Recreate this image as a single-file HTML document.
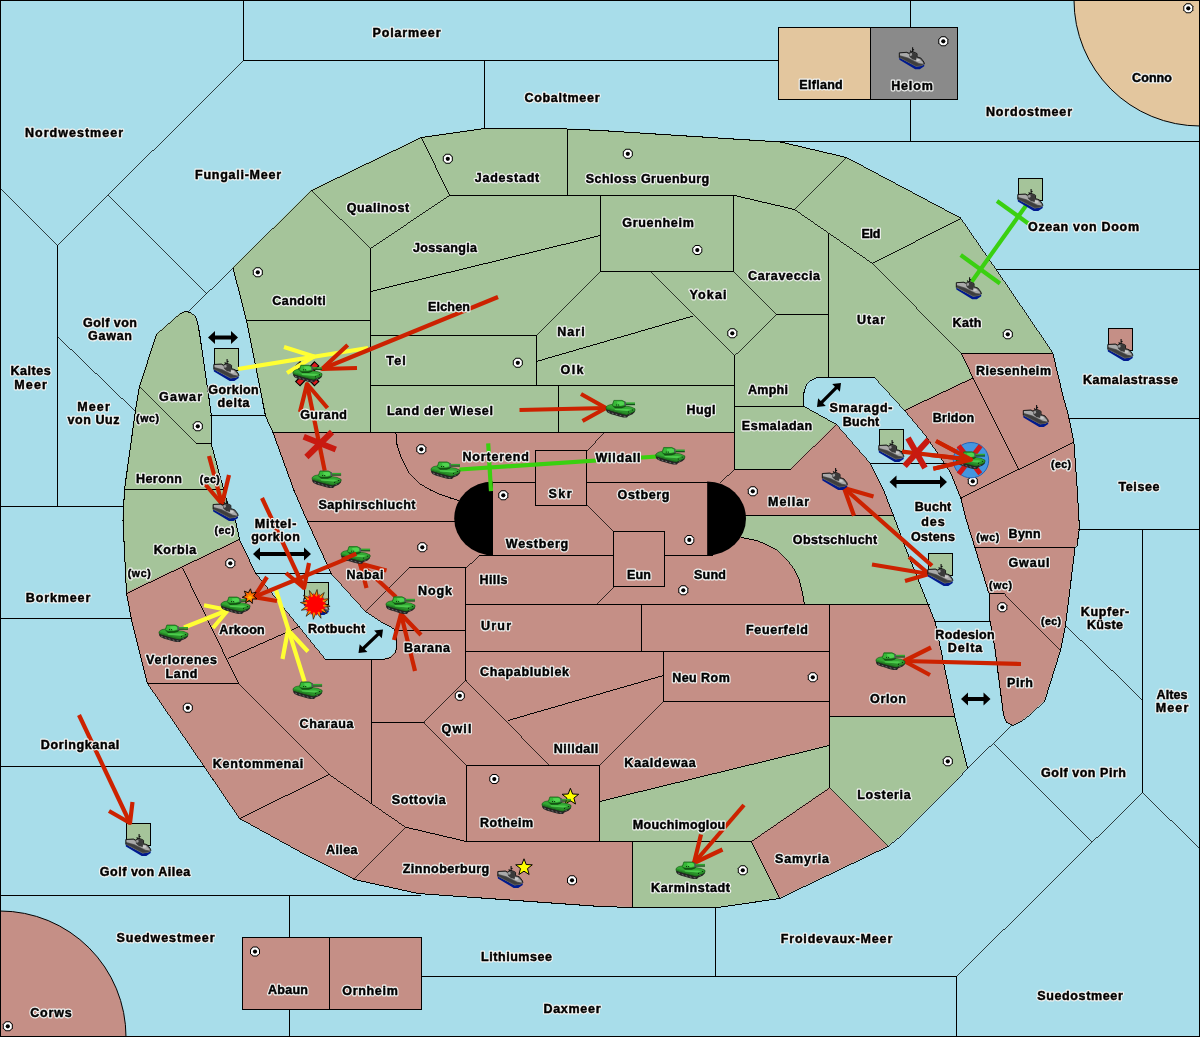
<!DOCTYPE html>
<html><head><meta charset="utf-8"><title>Map</title>
<style>html,body{margin:0;padding:0;background:#A8DDEA}svg{display:block}text{font-family:"Liberation Sans",sans-serif;font-weight:bold;fill:#000;text-anchor:middle;stroke-linejoin:round}.h text{stroke:#f0f2f0;stroke-width:2.8px;fill:#f0f2f0}.t text{stroke:#000;stroke-width:.45px}.b{fill:none;stroke:#000;stroke-width:1}.ar{fill:none;stroke-width:4.2;stroke-linecap:butt}</style></head>
<body>
<svg width="1200" height="1037" viewBox="0 0 1200 1037">
<defs>
<g id="tk"><polygon points="0,8.6 0.2,10.6 1.5,12.3 5.2,14 9,15 13.1,16.3 17.3,17.3 21,17.3 22.3,15.7 26.5,14 28.8,11.9 28.9,10.4 20.6,14 9,11.2" fill="#242424"/><path d="M2.2,11.4 l1.6,0.7 M5.8,12.8 l1.8,0.6 M9.6,13.9 l1.8,0.6 M13.6,15.1 l1.8,0.5 M17.6,16 l2,0.2 M23.3,14 l1.6,-0.7" stroke="#707070" stroke-width="1" fill="none"/><polygon points="0,6.9 1.5,5.6 3.1,4.8 6.5,4.2 19.6,5.9 24.8,6.7 29,8.6 29,10.6 26.5,12.3 20.6,14.5 18.1,14.1 9,11.6 0,8.8" fill="#2a902a" stroke="#134d13" stroke-width="0.6"/><polygon points="0.2,6.9 3.1,5.1 6.5,4.5 19.6,6.2 24.6,7 28.4,8.7 21.5,10.9 9,9.4" fill="#33a833"/><polygon points="8.5,8.6 22,8.7 25.6,9.5 21.3,10.9 9,9.9" fill="#4ccc4c"/><polygon points="0.6,8.3 9,10.4 18.5,13 20.6,13.5 23,12.6 20.8,14.3 18.1,13.9 9,11.4 0.3,8.7" fill="#1f7a1f"/><polygon points="6.5,5.5 9,8.1 15.6,8 18.6,7.1 20,6.1 19.6,4.8 7,5" fill="#125212"/><polygon points="6.25,4.8 7.9,0.2 16,0.2 18.75,1.5 19.6,4.8 18.1,5.7 15.6,6.2 9,6.4 7,5.8" fill="#38b838" stroke="#155a15" stroke-width="0.6"/><polygon points="7.9,0.2 16,0.2 18.75,1.5 18.9,2.2 16,0.9 8.2,0.9 6.9,4.6 6.25,4.8" fill="#1f7f1f"/><polygon points="11,1.6 16,1.2 18,2.4 18.4,4.4 14,5.6 11.5,3.6" fill="#50d450"/><rect x="18.5" y="1.5" width="1.4" height="4" fill="#54545f"/><rect x="19.9" y="2.2" width="9.1" height="1.5" fill="#2fa82f"/><rect x="19.9" y="3.7" width="9.1" height="1.3" fill="#12501a"/><rect x="10" y="4.3" width="1" height="1" fill="#0c300c"/><rect x="12.1" y="4.3" width="1" height="1" fill="#0c300c"/><rect x="26" y="9.3" width="1" height="1" fill="#0c300c"/><rect x="22" y="11.3" width="1" height="1" fill="#0c300c"/></g>
<g id="sh"><polygon points="0.2,10.2 0.4,12.4 16.2,22 20.8,22 25.2,19 25.2,17 22.5,18.6 17.1,19.3" fill="#001a8e"/><polygon points="0.3,5.6 7.9,5.1 10,6.2 11.6,5.2 13.4,4.5 16.3,5.5 18,6.5 17.9,9.7 21.8,10.9 24.8,14.8 25.3,16.6 25.2,17.2 22.5,18.8 17.1,19.5 0.2,10.4" fill="#5a5a5a"/><polygon points="0.5,8.6 9,11 20,16.6 24.6,17 22.4,18 17.1,18.6 0.4,9.8" fill="#3e3e3e"/><polygon points="0.8,5.9 7.6,5.7 10,6.9 10.5,9.4 17,13.3 17.5,11 21,11.7 24,15.3 24.3,16.4 20,15.8 9,10.2 0.8,7.9" fill="#aaaaaa"/><polygon points="10.6,6.4 13.2,5.2 16.4,6.1 17.4,7 17.3,12.6 13.6,12.2 10.8,9.8" fill="#3a3a3a"/><polygon points="10.4,6.4 12.8,5.5 13.2,8 11.2,8.9" fill="#9c9c9c"/><polygon points="17.4,11.2 20.4,11.6 20.8,13.5 17.6,13.9" fill="#cacaca"/><polyline points="0.3,10.4 0.3,5.5 7.9,5 10,6 11.5,5.1 13.5,4.4 16.4,5.4 18.1,6.4 18,9.6 21.9,10.8 24.9,14.7 25.4,16.8" fill="none" stroke="#111" stroke-width="0.9"/><path d="M13.6,0 V4.8 M11.2,3.3 L12.5,4.9 M14.2,2 L14.9,3" stroke="#111" stroke-width="1.1" fill="none"/></g>
<g id="sc"><polygon points="-2,-5 2,-5 5,-2 5,2 2,5 -2,5 -5,2 -5,-2" fill="#000"/><polygon points="-1.8,-4 1.8,-4 4,-1.8 4,1.8 1.8,4 -1.8,4 -4,1.8 -4,-1.8" fill="#fff"/><circle r="2.1" fill="#000"/></g>
<filter id="nf" x="0" y="0" width="1200" height="1037" filterUnits="userSpaceOnUse"><feOffset dx="0" dy="0"/></filter>
</defs>
<rect width="1200" height="1037" fill="#A8DDEA"/>
<circle cx="1200" cy="0" r="126" fill="#E3C69E" stroke="#000" stroke-width="1"/>
<circle cx="0" cy="1037" r="126" fill="#C58F86" stroke="#000" stroke-width="1"/>
<polygon points="232.5,267.5 311,190 421,137 484,128 555,128 600,130 780,141.5 846,157 960,217.5 996,269.5 1052.5,352.5 1063.8,400 1068.7,418 1073.5,443 1076.6,486.7 1078.5,519 1078.7,529 1076.6,545 1074.5,547.5 1065,625 1060,650 1044,701 1030,714 1021,721 1012.5,725 1006,722 1003,714 994,645 989.5,620 989.5,594 987.5,590 975,549 966,520 960.5,498 949.5,471 925,435 904,410 874.4,377.5 816,377.5 810,380 806.3,384 804.5,387.5 803.5,392 803.5,406 836,424 869,462 882,487 893.6,516.7 906,550 931,612.5 934.5,621 954,715 967,767.5 957.5,779 900,836 887.5,846 779,898 717.5,907 632.5,907 600,906 417.5,893 354,879 299,851 239,818 212.5,779 147,683 131,619 126,592.5 122.5,520 124,489 135,410 139,386 156,334 180,313 185,311 190,312 195,316 197,322 199,332.5 208.8,400 210.8,415 210.6,443 220,477.5 229,510 235,520 239,539 255,572.6 325,659 383,659 390,657 395,652 396.5,645 395.5,629.4 381.5,622 365,611 331,573.5 307.3,521.8 293.5,490 272.5,432 265,415.5 246,320" fill="#A5C49A"/>
<polygon points="272.5,432 734,432 734,469 790,469 836,424 869,462 882,487 893,515 745,515 741,537 756,540 766,544 775.5,549 786,558.5 794,569 799,580 802,592 804,604 929,604 931,612.5 934.5,621 954,716 829,716 829,745 599.5,801 599.5,841 632.5,841 632.5,907 600,906 417.5,893 354,879 299,851 239,818 212.5,779 147,683 131,619 126,592.5 239,539 255,572.6 325,659 383,659 390,657 395,652 396.5,645 395.5,629.4 381.5,622 365,611 331,573.5 307.3,521.8 293.5,490" fill="#C58F86"/>
<polygon points="961,353 1052.5,353 1063.8,400 1068.7,418 1073.5,443 1076.6,486.7 1078.5,519 1078.7,529 1076.6,545 1074.5,547.5 1065,625 1060,650 1044,701 1030,714 1021,721 1012.5,725 1006,722 1003,714 994,645 989.5,620 989.5,594 987.5,590 975,549 966,520 960.5,498 949.5,471 925,435 904,410 972.5,377.5" fill="#C58F86"/>
<polygon points="751,841 829,787.5 887.5,846 779,898" fill="#C58F86"/>
<rect x="778.5" y="27.5" width="92" height="72" fill="#E3C69E" stroke="#000" stroke-width="1"/>
<rect x="870.5" y="27.5" width="87" height="72" fill="#8A8A8A" stroke="#000" stroke-width="1"/>
<rect x="242.5" y="937.5" width="87" height="72" fill="#C58F86" stroke="#000" stroke-width="1"/>
<rect x="329.5" y="937.5" width="92" height="72" fill="#C58F86" stroke="#000" stroke-width="1"/>
<g class="b" shape-rendering="crispEdges">
<line x1="232.64" y1="268.35" x2="311.86" y2="190.15" stroke-width="0.726"/><line x1="311.05" y1="190.72" x2="421.95" y2="137.28" stroke-width="0.919"/><line x1="421.01" y1="137.57" x2="484.99" y2="128.43" stroke-width="1.010"/><line x1="484.00" y1="128.50" x2="556.00" y2="128.50" stroke-width="1.000"/><line x1="555.00" y1="128.48" x2="601.00" y2="130.52" stroke-width="1.019"/><line x1="600.00" y1="130.47" x2="781.00" y2="142.03" stroke-width="1.018"/><line x1="780.01" y1="141.89" x2="846.99" y2="157.61" stroke-width="0.993"/><line x1="846.06" y1="157.27" x2="960.94" y2="218.23" stroke-width="0.901"/><line x1="960.22" y1="217.59" x2="996.78" y2="270.41" stroke-width="0.839"/><line x1="996.22" y1="269.59" x2="1053.28" y2="353.41" stroke-width="0.843"/><line x1="1052.88" y1="352.51" x2="1064.42" y2="400.99" stroke-width="0.992"/><line x1="1064.17" y1="400.02" x2="1069.33" y2="418.98" stroke-width="0.984"/><line x1="1069.11" y1="418.01" x2="1074.09" y2="443.99" stroke-width="1.002"/><line x1="1073.96" y1="443.00" x2="1077.14" y2="487.70" stroke-width="1.017"/><line x1="1077.07" y1="486.70" x2="1079.03" y2="520.00" stroke-width="1.018"/><line x1="1078.99" y1="519.00" x2="1079.21" y2="530.00" stroke-width="1.020"/><line x1="1079.27" y1="529.00" x2="1077.03" y2="546.00" stroke-width="1.011"/><line x1="1077.42" y1="545.12" x2="1074.68" y2="548.38" stroke-width="0.781"/><line x1="1075.06" y1="547.50" x2="1065.44" y2="626.00" stroke-width="1.012"/><line x1="1065.60" y1="625.01" x2="1060.40" y2="650.99" stroke-width="1.000"/><line x1="1060.65" y1="650.02" x2="1044.35" y2="701.98" stroke-width="0.973"/><line x1="1044.87" y1="701.16" x2="1030.13" y2="714.84" stroke-width="0.747"/><line x1="1030.89" y1="714.19" x2="1021.11" y2="721.81" stroke-width="0.805"/><line x1="1021.95" y1="721.29" x2="1012.55" y2="725.71" stroke-width="0.923"/><line x1="1013.45" y1="725.71" x2="1006.05" y2="722.29" stroke-width="0.926"/><line x1="1006.68" y1="722.97" x2="1003.32" y2="714.03" stroke-width="0.955"/><line x1="1003.56" y1="715.00" x2="994.44" y2="645.00" stroke-width="1.011"/><line x1="994.59" y1="645.99" x2="989.91" y2="620.01" stroke-width="1.004"/><line x1="989.50" y1="594.00" x2="989.50" y2="621.00" stroke-width="1.000"/><line x1="990.22" y1="594.95" x2="987.78" y2="590.05" stroke-width="0.912"/><line x1="988.15" y1="590.98" x2="975.35" y2="549.02" stroke-width="0.976"/><line x1="975.65" y1="549.98" x2="966.35" y2="520.02" stroke-width="0.974"/><line x1="966.62" y1="520.99" x2="960.88" y2="498.01" stroke-width="0.990"/><line x1="961.19" y1="498.96" x2="949.81" y2="471.04" stroke-width="0.945"/><line x1="950.28" y1="471.91" x2="925.22" y2="435.09" stroke-width="0.843"/><line x1="925.82" y1="435.88" x2="904.18" y2="410.12" stroke-width="0.781"/><line x1="904.84" y1="410.87" x2="874.56" y2="377.63" stroke-width="0.754"/><line x1="816.00" y1="377.50" x2="875.00" y2="377.50" stroke-width="1.000"/><line x1="816.96" y1="377.81" x2="810.04" y2="380.69" stroke-width="0.942"/><line x1="810.84" y1="380.13" x2="806.46" y2="384.87" stroke-width="0.749"/><line x1="807.03" y1="384.06" x2="804.77" y2="388.44" stroke-width="0.907"/><line x1="805.11" y1="387.51" x2="803.89" y2="392.99" stroke-width="0.996"/><line x1="803.50" y1="392.00" x2="803.50" y2="407.00" stroke-width="1.000"/><line x1="803.56" y1="406.26" x2="836.94" y2="424.74" stroke-width="0.892"/><line x1="836.17" y1="424.12" x2="869.83" y2="462.88" stroke-width="0.770"/><line x1="869.27" y1="462.06" x2="882.73" y2="487.94" stroke-width="0.905"/><line x1="882.32" y1="487.03" x2="894.28" y2="517.67" stroke-width="0.950"/><line x1="893.93" y1="516.73" x2="906.67" y2="550.97" stroke-width="0.956"/><line x1="906.31" y1="550.04" x2="931.69" y2="613.46" stroke-width="0.947"/><line x1="931.31" y1="612.54" x2="935.19" y2="621.96" stroke-width="0.943"/><line x1="934.90" y1="621.01" x2="954.60" y2="715.99" stroke-width="0.999"/><line x1="954.38" y1="715.01" x2="967.62" y2="768.49" stroke-width="0.990"/><line x1="967.82" y1="767.61" x2="957.68" y2="779.89" stroke-width="0.786"/><line x1="958.36" y1="779.15" x2="900.14" y2="836.85" stroke-width="0.724"/><line x1="900.89" y1="836.19" x2="887.61" y2="846.81" stroke-width="0.796"/><line x1="888.45" y1="846.28" x2="779.05" y2="898.72" stroke-width="0.920"/><line x1="779.99" y1="898.43" x2="717.51" y2="907.57" stroke-width="1.009"/><line x1="632.00" y1="907.50" x2="718.00" y2="907.50" stroke-width="1.000"/><line x1="633.50" y1="907.52" x2="600.00" y2="906.48" stroke-width="1.020"/><line x1="601.00" y1="906.54" x2="417.50" y2="893.46" stroke-width="1.017"/><line x1="418.49" y1="893.61" x2="354.01" y2="879.39" stroke-width="0.996"/><line x1="354.95" y1="879.73" x2="299.05" y2="851.27" stroke-width="0.909"/><line x1="299.94" y1="851.74" x2="239.06" y2="818.26" stroke-width="0.894"/><line x1="239.78" y1="818.91" x2="212.72" y2="779.09" stroke-width="0.844"/><line x1="213.28" y1="779.91" x2="147.22" y2="683.09" stroke-width="0.843"/><line x1="147.62" y1="683.99" x2="131.38" y2="619.01" stroke-width="0.990"/><line x1="131.59" y1="619.99" x2="126.41" y2="592.51" stroke-width="1.002"/><line x1="126.52" y1="593.50" x2="122.98" y2="520.00" stroke-width="1.019"/><line x1="122.98" y1="521.00" x2="124.52" y2="489.00" stroke-width="1.019"/><line x1="124.43" y1="490.00" x2="135.57" y2="410.00" stroke-width="1.010"/><line x1="135.42" y1="410.99" x2="139.58" y2="386.01" stroke-width="1.006"/><line x1="139.34" y1="386.98" x2="156.66" y2="334.02" stroke-width="0.970"/><line x1="156.12" y1="334.83" x2="180.88" y2="313.17" stroke-width="0.768"/><line x1="180.04" y1="313.69" x2="185.96" y2="311.31" stroke-width="0.947"/><line x1="185.01" y1="311.40" x2="190.99" y2="312.60" stroke-width="1.000"/><line x1="190.11" y1="312.19" x2="195.89" y2="316.81" stroke-width="0.796"/><line x1="195.34" y1="316.03" x2="197.66" y2="322.97" stroke-width="0.968"/><line x1="197.41" y1="322.01" x2="199.59" y2="333.49" stroke-width="1.002"/><line x1="199.43" y1="332.51" x2="209.37" y2="400.99" stroke-width="1.009"/><line x1="209.23" y1="400.00" x2="211.37" y2="416.00" stroke-width="1.011"/><line x1="211.30" y1="415.00" x2="211.10" y2="444.00" stroke-width="1.020"/><line x1="210.97" y1="443.02" x2="220.63" y2="478.48" stroke-width="0.984"/><line x1="220.37" y1="477.52" x2="229.63" y2="510.98" stroke-width="0.983"/><line x1="229.24" y1="510.07" x2="235.76" y2="520.93" stroke-width="0.875"/><line x1="235.40" y1="520.01" x2="239.60" y2="539.99" stroke-width="0.998"/><line x1="239.29" y1="539.05" x2="255.71" y2="573.55" stroke-width="0.921"/><line x1="255.19" y1="572.71" x2="325.81" y2="659.89" stroke-width="0.793"/><line x1="325.00" y1="659.50" x2="384.00" y2="659.50" stroke-width="1.000"/><line x1="383.02" y1="659.64" x2="390.98" y2="657.36" stroke-width="0.981"/><line x1="390.15" y1="657.85" x2="395.85" y2="652.15" stroke-width="0.721"/><line x1="395.40" y1="652.99" x2="397.10" y2="645.01" stroke-width="0.997"/><line x1="397.03" y1="646.00" x2="395.97" y2="629.40" stroke-width="1.018"/><line x1="396.44" y1="630.13" x2="381.56" y2="622.27" stroke-width="0.902"/><line x1="382.42" y1="622.78" x2="365.08" y2="611.22" stroke-width="0.849"/><line x1="365.84" y1="611.87" x2="331.16" y2="573.63" stroke-width="0.756"/><line x1="331.71" y1="574.45" x2="307.59" y2="521.85" stroke-width="0.927"/><line x1="308.00" y1="522.76" x2="293.80" y2="490.04" stroke-width="0.936"/><line x1="294.17" y1="490.97" x2="272.83" y2="432.03" stroke-width="0.959"/><line x1="273.21" y1="432.96" x2="265.29" y2="415.54" stroke-width="0.929"/><line x1="265.60" y1="416.49" x2="246.40" y2="320.01" stroke-width="1.000"/><line x1="246.62" y1="320.98" x2="232.88" y2="267.52" stroke-width="0.988"/>
<line x1="243.50" y1="0.00" x2="243.50" y2="61.00" stroke-width="1.000"/>
<line x1="243.00" y1="60.50" x2="779.00" y2="60.50" stroke-width="1.000"/>
<line x1="243.85" y1="60.15" x2="57.15" y2="245.85" stroke-width="0.723"/><line x1="57.50" y1="245.00" x2="57.50" y2="507.00" stroke-width="1.000"/>
<line x1="0.15" y1="188.15" x2="57.85" y2="245.85" stroke-width="0.721"/>
<line x1="108.15" y1="195.15" x2="206.85" y2="293.85" stroke-width="0.721"/>
<line x1="233.36" y1="267.65" x2="188.14" y2="311.85" stroke-width="0.729"/>
<line x1="484.50" y1="60.00" x2="484.50" y2="129.00" stroke-width="1.000"/>
<line x1="910.50" y1="0.00" x2="910.50" y2="28.00" stroke-width="1.000"/>
<line x1="910.50" y1="99.00" x2="910.50" y2="142.00" stroke-width="1.000"/>
<line x1="780.00" y1="141.50" x2="1200.00" y2="141.50" stroke-width="1.000"/>
<line x1="996.00" y1="269.50" x2="1200.00" y2="269.50" stroke-width="1.000"/>
<line x1="1068.00" y1="418.50" x2="1200.00" y2="418.50" stroke-width="1.000"/>
<line x1="1078.00" y1="529.50" x2="1200.00" y2="529.50" stroke-width="1.000"/>
<line x1="1142.50" y1="529.00" x2="1142.50" y2="793.00" stroke-width="1.000"/>
<line x1="1065.14" y1="625.15" x2="1142.86" y2="700.35" stroke-width="0.733"/>
<line x1="1142.14" y1="792.15" x2="1199.86" y2="848.85" stroke-width="0.728"/>
<line x1="1142.86" y1="792.15" x2="956.14" y2="976.85" stroke-width="0.725"/>
<line x1="956.50" y1="976.00" x2="956.50" y2="1037.00" stroke-width="1.000"/>
<line x1="421.00" y1="976.50" x2="957.00" y2="976.50" stroke-width="1.000"/>
<line x1="715.50" y1="907.00" x2="715.50" y2="977.00" stroke-width="1.000"/>
<line x1="994.15" y1="744.15" x2="1091.85" y2="841.85" stroke-width="0.721"/>
<line x1="967.14" y1="768.85" x2="1011.86" y2="725.15" stroke-width="0.729"/>
<line x1="0.00" y1="506.50" x2="123.00" y2="506.50" stroke-width="1.000"/>
<line x1="57.14" y1="336.15" x2="135.86" y2="411.85" stroke-width="0.735"/>
<line x1="0.00" y1="618.50" x2="132.00" y2="618.50" stroke-width="1.000"/>
<line x1="0.00" y1="766.50" x2="204.00" y2="766.50" stroke-width="1.000"/>
<line x1="0.00" y1="895.50" x2="421.00" y2="895.50" stroke-width="1.000"/>
<line x1="289.50" y1="895.00" x2="289.50" y2="938.00" stroke-width="1.000"/>
<line x1="289.50" y1="1009.00" x2="289.50" y2="1037.00" stroke-width="1.000"/>
<line x1="210.00" y1="415.50" x2="266.00" y2="415.50" stroke-width="1.000"/>
<line x1="255.00" y1="573.50" x2="332.00" y2="573.50" stroke-width="1.000"/>
<line x1="870.00" y1="463.50" x2="947.00" y2="463.50" stroke-width="1.000"/>
<line x1="934.00" y1="621.50" x2="990.00" y2="621.50" stroke-width="1.000"/>
<line x1="311.14" y1="190.15" x2="370.86" y2="248.85" stroke-width="0.727"/>
<line x1="370.50" y1="248.00" x2="370.50" y2="433.00" stroke-width="1.000"/>
<line x1="421.28" y1="137.05" x2="449.72" y2="195.95" stroke-width="0.919"/>
<line x1="449.92" y1="195.22" x2="370.08" y2="248.78" stroke-width="0.847"/>
<line x1="449.00" y1="195.50" x2="735.00" y2="195.50" stroke-width="1.000"/>
<line x1="567.50" y1="129.00" x2="567.50" y2="196.00" stroke-width="1.000"/>
<line x1="734.01" y1="195.39" x2="794.99" y2="209.61" stroke-width="0.993"/>
<line x1="794.15" y1="209.85" x2="846.85" y2="157.15" stroke-width="0.721"/>
<line x1="794.09" y1="209.22" x2="872.91" y2="263.78" stroke-width="0.839"/><line x1="872.15" y1="263.14" x2="961.85" y2="353.86" stroke-width="0.725"/>
<line x1="872.05" y1="263.73" x2="960.95" y2="218.27" stroke-width="0.908"/>
<line x1="600.50" y1="195.00" x2="600.50" y2="272.00" stroke-width="1.000"/><line x1="600.00" y1="271.50" x2="734.00" y2="271.50" stroke-width="1.000"/><line x1="733.50" y1="195.00" x2="733.50" y2="272.00" stroke-width="1.000"/>
<line x1="370.01" y1="291.62" x2="600.99" y2="235.38" stroke-width="0.991"/>
<line x1="246.00" y1="320.50" x2="371.00" y2="320.50" stroke-width="1.000"/>
<line x1="370.00" y1="335.50" x2="537.00" y2="335.50" stroke-width="1.000"/>
<line x1="536.50" y1="335.00" x2="536.50" y2="386.00" stroke-width="1.000"/>
<line x1="536.15" y1="335.85" x2="600.85" y2="271.15" stroke-width="0.721"/>
<line x1="536.02" y1="361.64" x2="693.48" y2="315.86" stroke-width="0.979"/>
<line x1="650.15" y1="271.15" x2="734.85" y2="356.35" stroke-width="0.723"/>
<line x1="733.15" y1="271.15" x2="776.85" y2="314.85" stroke-width="0.721"/><line x1="776.86" y1="314.15" x2="734.14" y2="356.35" stroke-width="0.726"/>
<line x1="776.00" y1="314.50" x2="829.00" y2="314.50" stroke-width="1.000"/>
<line x1="828.50" y1="234.00" x2="828.50" y2="378.00" stroke-width="1.000"/>
<line x1="734.50" y1="355.00" x2="734.50" y2="470.00" stroke-width="1.000"/>
<line x1="370.00" y1="385.50" x2="735.00" y2="385.50" stroke-width="1.000"/>
<line x1="558.50" y1="385.00" x2="558.50" y2="433.00" stroke-width="1.000"/>
<line x1="272.00" y1="432.50" x2="735.00" y2="432.50" stroke-width="1.000"/>
<line x1="734.00" y1="406.50" x2="804.00" y2="406.50" stroke-width="1.000"/>
<line x1="836.86" y1="424.15" x2="790.14" y2="469.85" stroke-width="0.729"/><line x1="734.00" y1="469.50" x2="791.00" y2="469.50" stroke-width="1.000"/>
<line x1="734.87" y1="469.16" x2="720.13" y2="482.84" stroke-width="0.747"/>
<line x1="395.85" y1="432.00" x2="397.05" y2="445.00" stroke-width="1.016"/><line x1="396.85" y1="444.02" x2="400.65" y2="455.98" stroke-width="0.972"/><line x1="400.30" y1="455.04" x2="404.70" y2="464.96" stroke-width="0.932"/><line x1="404.26" y1="464.06" x2="409.49" y2="473.44" stroke-width="0.890"/><line x1="408.92" y1="472.62" x2="414.83" y2="479.38" stroke-width="0.768"/><line x1="414.12" y1="478.67" x2="420.88" y2="484.58" stroke-width="0.768"/><line x1="420.07" y1="484.00" x2="430.93" y2="490.25" stroke-width="0.884"/><line x1="430.04" y1="489.79" x2="440.96" y2="494.71" stroke-width="0.930"/><line x1="440.03" y1="494.33" x2="450.97" y2="498.17" stroke-width="0.963"/><line x1="450.02" y1="497.86" x2="459.48" y2="500.64" stroke-width="0.979"/>
<line x1="535.00" y1="450.50" x2="587.00" y2="450.50" stroke-width="1.000"/><line x1="586.50" y1="450.00" x2="586.50" y2="506.00" stroke-width="1.000"/><line x1="535.00" y1="505.50" x2="587.00" y2="505.50" stroke-width="1.000"/><line x1="535.50" y1="450.00" x2="535.50" y2="506.00" stroke-width="1.000"/>
<line x1="492.00" y1="482.50" x2="536.00" y2="482.50" stroke-width="1.000"/>
<line x1="586.66" y1="451.36" x2="604.84" y2="432.14" stroke-width="0.741"/>
<line x1="586.00" y1="482.50" x2="708.00" y2="482.50" stroke-width="1.000"/>
<line x1="586.64" y1="505.15" x2="614.36" y2="532.35" stroke-width="0.728"/>
<line x1="613.00" y1="531.50" x2="665.00" y2="531.50" stroke-width="1.000"/><line x1="664.50" y1="531.00" x2="664.50" y2="587.00" stroke-width="1.000"/><line x1="613.00" y1="586.50" x2="665.00" y2="586.50" stroke-width="1.000"/><line x1="613.50" y1="531.00" x2="613.50" y2="587.00" stroke-width="1.000"/>
<line x1="614.35" y1="586.64" x2="596.15" y2="605.36" stroke-width="0.731"/>
<line x1="479.00" y1="555.50" x2="614.00" y2="555.50" stroke-width="1.000"/>
<line x1="664.00" y1="555.50" x2="713.00" y2="555.50" stroke-width="1.000"/>
<line x1="479.87" y1="555.67" x2="465.63" y2="568.33" stroke-width="0.762"/>
<line x1="409.00" y1="567.50" x2="466.00" y2="567.50" stroke-width="1.000"/>
<line x1="409.86" y1="567.65" x2="365.14" y2="611.85" stroke-width="0.725"/>
<line x1="465.50" y1="567.00" x2="465.50" y2="681.00" stroke-width="1.000"/>
<line x1="394.00" y1="630.50" x2="466.00" y2="630.50" stroke-width="1.000"/>
<line x1="465.00" y1="604.50" x2="930.00" y2="604.50" stroke-width="1.000"/>
<line x1="465.00" y1="651.50" x2="830.00" y2="651.50" stroke-width="1.000"/>
<line x1="641.50" y1="604.00" x2="641.50" y2="652.00" stroke-width="1.000"/>
<line x1="829.50" y1="604.00" x2="829.50" y2="788.00" stroke-width="1.000"/>
<line x1="663.50" y1="651.00" x2="663.50" y2="702.00" stroke-width="1.000"/><line x1="663.00" y1="701.50" x2="830.00" y2="701.50" stroke-width="1.000"/>
<line x1="507.52" y1="720.64" x2="663.98" y2="675.36" stroke-width="0.980"/>
<line x1="663.85" y1="701.15" x2="599.15" y2="765.85" stroke-width="0.721"/>
<line x1="466.35" y1="680.15" x2="423.65" y2="722.85" stroke-width="0.721"/>
<line x1="465.65" y1="680.14" x2="549.85" y2="765.86" stroke-width="0.728"/>
<line x1="371.00" y1="722.50" x2="424.00" y2="722.50" stroke-width="1.000"/>
<line x1="371.50" y1="659.00" x2="371.50" y2="803.00" stroke-width="1.000"/>
<line x1="423.65" y1="722.14" x2="466.85" y2="765.86" stroke-width="0.725"/>
<line x1="466.00" y1="765.50" x2="600.00" y2="765.50" stroke-width="1.000"/><line x1="599.50" y1="765.00" x2="599.50" y2="842.00" stroke-width="1.000"/><line x1="466.00" y1="841.50" x2="600.00" y2="841.50" stroke-width="1.000"/><line x1="466.50" y1="765.00" x2="466.50" y2="842.00" stroke-width="1.000"/>
<line x1="238.15" y1="683.15" x2="329.35" y2="774.85" stroke-width="0.723"/><line x1="328.59" y1="774.22" x2="406.41" y2="827.78" stroke-width="0.840"/><line x1="405.51" y1="827.39" x2="465.99" y2="841.61" stroke-width="0.993"/>
<line x1="353.65" y1="879.85" x2="406.35" y2="827.15" stroke-width="0.721"/>
<line x1="239.55" y1="818.72" x2="329.45" y2="774.28" stroke-width="0.914"/>
<line x1="599.00" y1="841.50" x2="752.00" y2="841.50" stroke-width="1.000"/>
<line x1="632.50" y1="841.00" x2="632.50" y2="908.00" stroke-width="1.000"/>
<line x1="751.28" y1="841.05" x2="779.72" y2="898.95" stroke-width="0.916"/>
<line x1="751.09" y1="841.78" x2="829.91" y2="787.72" stroke-width="0.841"/><line x1="829.15" y1="787.65" x2="888.35" y2="846.85" stroke-width="0.721"/>
<line x1="829.99" y1="745.38" x2="599.01" y2="801.62" stroke-width="0.991"/>
<line x1="829.00" y1="716.50" x2="955.00" y2="716.50" stroke-width="1.000"/>
<line x1="307.00" y1="521.50" x2="456.00" y2="521.50" stroke-width="1.000"/>
<line x1="741.01" y1="537.40" x2="756.99" y2="540.60" stroke-width="1.000"/><line x1="756.04" y1="540.31" x2="766.96" y2="544.69" stroke-width="0.947"/><line x1="766.06" y1="544.27" x2="776.44" y2="549.73" stroke-width="0.903"/><line x1="775.63" y1="549.16" x2="786.87" y2="559.34" stroke-width="0.756"/><line x1="786.20" y1="558.60" x2="794.80" y2="569.90" stroke-width="0.811"/><line x1="794.29" y1="569.04" x2="799.71" y2="580.96" stroke-width="0.929"/><line x1="799.38" y1="580.01" x2="802.62" y2="592.99" stroke-width="0.990"/><line x1="802.42" y1="592.01" x2="804.58" y2="604.99" stroke-width="1.006"/>
<line x1="745.00" y1="515.50" x2="894.00" y2="515.50" stroke-width="1.000"/>
<line x1="961.00" y1="353.50" x2="1053.00" y2="353.50" stroke-width="1.000"/>
<line x1="961.29" y1="353.05" x2="973.21" y2="378.45" stroke-width="0.923"/><line x1="972.78" y1="377.55" x2="1018.72" y2="468.95" stroke-width="0.911"/>
<line x1="973.45" y1="377.79" x2="904.05" y2="410.71" stroke-width="0.922"/>
<line x1="961.05" y1="497.72" x2="1073.95" y2="442.28" stroke-width="0.916"/>
<line x1="975.00" y1="547.50" x2="1075.00" y2="547.50" stroke-width="1.000"/>
<line x1="989.00" y1="593.50" x2="1004.00" y2="593.50" stroke-width="1.000"/><line x1="1003.65" y1="593.14" x2="1060.85" y2="650.86" stroke-width="0.724"/>
<line x1="139.15" y1="386.15" x2="196.85" y2="443.85" stroke-width="0.721"/><line x1="196.00" y1="443.50" x2="211.00" y2="443.50" stroke-width="1.000"/>
<line x1="124.00" y1="489.50" x2="224.00" y2="489.50" stroke-width="1.000"/>
<line x1="126.05" y1="593.72" x2="239.95" y2="539.28" stroke-width="0.920"/>
<line x1="182.28" y1="567.55" x2="238.72" y2="683.95" stroke-width="0.918"/>
<line x1="147.00" y1="683.50" x2="239.00" y2="683.50" stroke-width="1.000"/>
<line x1="227.54" y1="658.70" x2="299.96" y2="626.30" stroke-width="0.931"/>
</g>
<path d="M493,481.4 A38.8,37 0 0 0 493,555.4 Z" fill="#000"/>
<path d="M707.2,481.4 A38.8,37 0 0 1 707.2,555.4 Z" fill="#000"/>
<rect x="0.5" y="0.5" width="1199" height="1036" fill="none" stroke="#000" stroke-width="1"/>
<use href="#sc" x="447.8" y="158.85"/>
<use href="#sc" x="627.8" y="153.85"/>
<use href="#sc" x="697.3" y="250.05"/>
<use href="#sc" x="257.8" y="272.35"/>
<use href="#sc" x="517.8" y="362.85"/>
<use href="#sc" x="732.3" y="333.35"/>
<use href="#sc" x="1007.8" y="334.35"/>
<use href="#sc" x="197.8" y="426.35"/>
<use href="#sc" x="421.3" y="449.35"/>
<use href="#sc" x="503.3" y="495.35"/>
<use href="#sc" x="752.8" y="491.35"/>
<use href="#sc" x="972.8" y="481.35"/>
<use href="#sc" x="230.3" y="563.35"/>
<use href="#sc" x="422.3" y="547.35"/>
<use href="#sc" x="689.3" y="539.95"/>
<use href="#sc" x="683.3" y="590.35"/>
<use href="#sc" x="459.8" y="695.85"/>
<use href="#sc" x="187.8" y="707.85"/>
<use href="#sc" x="812.8" y="677.35"/>
<use href="#sc" x="1002.3" y="607.35"/>
<use href="#sc" x="947.8" y="761.35"/>
<use href="#sc" x="494.3" y="779.05"/>
<use href="#sc" x="572" y="880.35"/>
<use href="#sc" x="742.8" y="870.35"/>
<use href="#sc" x="255" y="951.55"/>
<use href="#sc" x="7.8" y="1026.35"/>
<use href="#sc" x="943.3" y="41.35"/>
<use href="#sc" x="1188.3" y="8.35"/>
<polygon points="208,337.5 215,344 215,339.5 231,339.5 231,344 238,337.5 231,331 231,335.5 215,335.5 215,331" fill="#000"/>
<polygon points="253,554 260,560.5 260,556 304,556 304,560.5 311,554 304,547.5 304,552 260,552 260,547.5" fill="#000"/>
<polygon points="889.5,482 896.5,488.5 896.5,484 940,484 940,488.5 947,482 940,475.5 940,480 896.5,480 896.5,475.5" fill="#000"/>
<polygon points="961,699 968,705.5 968,701 983.5,701 983.5,705.5 990.5,699 983.5,692.5 983.5,697 968,697 968,692.5" fill="#000"/>
<polygon points="817,407 825.8,405.9 823.1,403.2 837.2,389.1 839.9,391.8 841,383 832.2,384.1 834.9,386.8 820.8,400.9 818.1,398.2" fill="#000"/>
<polygon points="358.5,653 367.4,652.1 364.7,649.3 379.1,635.5 381.8,638.3 383,629.5 374.1,630.4 376.8,633.2 362.4,647 359.7,644.2" fill="#000"/>
<rect x="1018.5" y="178.5" width="24" height="22" fill="#A5C49A" stroke="#000" stroke-width="1" shape-rendering="crispEdges"/>
<rect x="1108.5" y="328.5" width="24" height="22" fill="#C58F86" stroke="#000" stroke-width="1" shape-rendering="crispEdges"/>
<rect x="879.5" y="429.5" width="24" height="22" fill="#A5C49A" stroke="#000" stroke-width="1" shape-rendering="crispEdges"/>
<rect x="928.5" y="553.5" width="24" height="22" fill="#A5C49A" stroke="#000" stroke-width="1" shape-rendering="crispEdges"/>
<rect x="214.5" y="348.5" width="24" height="22" fill="#A5C49A" stroke="#000" stroke-width="1" shape-rendering="crispEdges"/>
<rect x="304.5" y="582.5" width="24" height="22" fill="#A5C49A" stroke="#000" stroke-width="1" shape-rendering="crispEdges"/>
<rect x="126.5" y="823.5" width="24" height="22" fill="#A5C49A" stroke="#000" stroke-width="1" shape-rendering="crispEdges"/>
<path d="M297.5,363.5 L317,384 M317,363.5 L297.5,384" stroke="#000" stroke-width="7.2" fill="none"/>
<path d="M298.2,364.2 L316.3,383.3 M316.3,364.2 L298.2,383.3" stroke="#D81C1C" stroke-width="4.8" fill="none"/>
<polyline class="ar" stroke="#FFFF33" points="238,369 368,348"/>
<path class="ar" stroke="#FFFF33" d="M284,347 L314,356.5 M287,373 L314,356.5"/><circle cx="314" cy="356.5" r="2.1" fill="#FFFF33"/>
<polyline class="ar" stroke="#FFFF33" points="184,627.5 228,610"/>
<path class="ar" stroke="#FFFF33" d="M204,605.3 L228,610 M213,628 L228,610"/><circle cx="228" cy="610" r="2.1" fill="#FFFF33"/>
<polyline class="ar" stroke="#FFFF33" points="304.6,681.7 276,590"/>
<path class="ar" stroke="#FFFF33" d="M282.5,659 L288,630 M308,651.5 L288,630"/><circle cx="288" cy="630" r="2.1" fill="#FFFF33"/>
<polyline class="ar" stroke="#CC2200" points="498,297 322,369"/>
<path class="ar" stroke="#CC2200" d="M347.7,345 L322,369 M357,368 L322,369"/><circle cx="322" cy="369" r="2.1" fill="#CC2200"/>
<polyline class="ar" stroke="#CC2200" points="324.7,470.6 307,384"/>
<path class="ar" stroke="#CC2200" d="M300,412 L307,384 M327.5,408 L307,384"/><circle cx="307" cy="384" r="2.1" fill="#CC2200"/>
<polyline class="ar" stroke="#CC2200" points="519.5,410 606,408"/>
<path class="ar" stroke="#CC2200" d="M581,394 L606,408 M582.5,421 L606,408"/><circle cx="606" cy="408" r="2.1" fill="#CC2200"/>
<polyline class="ar" stroke="#CC2200" points="209,456 222,504"/>
<path class="ar" stroke="#CC2200" d="M205,484 L222,504 M229,475 L222,504"/><circle cx="222" cy="504" r="2.1" fill="#CC2200"/>
<polyline class="ar" stroke="#CC2200" points="262,498 304,588"/>
<path class="ar" stroke="#CC2200" d="M286,573 L304,588 M309,563 L304,588"/><circle cx="304" cy="588" r="2.1" fill="#CC2200"/>
<polyline class="ar" stroke="#CC2200" points="355.6,555.1 254,597"/>
<path class="ar" stroke="#CC2200" d="M267,577 L254,597 M277,601 L254,597"/><circle cx="254" cy="597" r="2.1" fill="#CC2200"/>
<polyline class="ar" stroke="#CC2200" points="396,597 360,563.5"/>
<path class="ar" stroke="#CC2200" d="M386.5,570.5 L360,563.5 M366.5,588 L360,563.5"/><circle cx="360" cy="563.5" r="2.1" fill="#CC2200"/>
<polyline class="ar" stroke="#CC2200" points="415,671 401,614"/>
<path class="ar" stroke="#CC2200" d="M394,640 L401,614 M421,635 L401,614"/><circle cx="401" cy="614" r="2.1" fill="#CC2200"/>
<polyline class="ar" stroke="#CC2200" points="902,451.6 971,459.7"/>
<path class="ar" stroke="#CC2200" d="M936,441 L971,459.7 M933.3,468.7 L971,459.7"/><circle cx="971" cy="459.7" r="2.1" fill="#CC2200"/>
<polyline class="ar" stroke="#CC2200" points="932,565.7 844,488"/>
<path class="ar" stroke="#CC2200" d="M873.5,496.5 L844,488 M854,515.8 L844,488"/><circle cx="844" cy="488" r="2.1" fill="#CC2200"/>
<polyline class="ar" stroke="#CC2200" points="872,564.5 929,574"/>
<path class="ar" stroke="#CC2200" d="M909,557 L929,574 M905,581 L929,574"/><circle cx="929" cy="574" r="2.1" fill="#CC2200"/>
<polyline class="ar" stroke="#CC2200" points="1021,664 904,661"/>
<path class="ar" stroke="#CC2200" d="M931,647.5 L904,661 M930,675 L904,661"/><circle cx="904" cy="661" r="2.1" fill="#CC2200"/>
<polyline class="ar" stroke="#CC2200" points="79,715 130,823"/>
<path class="ar" stroke="#CC2200" d="M109,811 L130,823 M132.5,802 L130,823"/><circle cx="130" cy="823" r="2.1" fill="#CC2200"/>
<polyline class="ar" stroke="#CC2200" points="744,805 694,863"/>
<path class="ar" stroke="#CC2200" d="M701,834.5 L694,863 M722.5,849.5 L694,863"/><circle cx="694" cy="863" r="2.1" fill="#CC2200"/>
<polyline class="ar" stroke="#3AD010" points="459.5,469.5 657,456.5"/>
<polyline class="ar" stroke="#3AD010" points="488.2,443.4 491,491.2"/>
<polyline class="ar" stroke="#3AD010" points="1030,200 971.7,281.7"/>
<polyline class="ar" stroke="#3AD010" points="997,201 1029,224"/>
<polyline class="ar" stroke="#3AD010" points="960.7,255 1000,283.5"/>
<path d="M303.7,436.7 L335.8,449.5 M306.4,457 L332,432" stroke="#C81A10" stroke-width="6" fill="none"/>
<path d="M908,438 L925,468 M928.5,439.7 L904.6,466" stroke="#C81A10" stroke-width="6" fill="none"/>
<circle cx="971" cy="460.2" r="17.7" fill="#4496E0" stroke="#2563B4" stroke-width="1"/>
<path d="M958.6,445.8 L980.3,473.8 M980.6,445.8 L958.8,474" stroke="#D01818" stroke-width="5" fill="none"/>
<polygon points="570.4,788.3 572.6,794 578.7,794.3 573.9,798.1 575.5,804 570.4,800.7 565.3,804 566.9,798.1 562.1,794.3 568.2,794" fill="#FFFF00" stroke="#000" stroke-width="1"/>
<polygon points="524,858.8 526.2,864.5 532.3,864.8 527.5,868.6 529.1,874.5 524,871.2 518.9,874.5 520.5,868.6 515.7,864.8 521.8,864.5" fill="#FFFF00" stroke="#000" stroke-width="1"/>
<use href="#sh" x="1017.5" y="189"/>
<use href="#sh" x="1107.5" y="339"/>
<use href="#sh" x="878.5" y="440"/>
<use href="#sh" x="927.5" y="564"/>
<use href="#sh" x="213.5" y="359"/>
<use href="#sh" x="303.5" y="593"/>
<use href="#sh" x="125.5" y="834"/>
<use href="#sh" x="899" y="47.3"/>
<use href="#sh" x="956" y="277.2"/>
<use href="#sh" x="1023" y="405"/>
<use href="#sh" x="822" y="468"/>
<use href="#sh" x="212.8" y="499"/>
<use href="#sh" x="497.5" y="866"/>
<use href="#tk" x="293" y="365"/>
<use href="#tk" x="312.1" y="470.7"/>
<use href="#tk" x="431" y="461.7"/>
<use href="#tk" x="606" y="400.2"/>
<use href="#tk" x="655.8" y="447.3"/>
<use href="#tk" x="341.1" y="546.4"/>
<use href="#tk" x="386" y="596.6"/>
<use href="#tk" x="221" y="596.8"/>
<use href="#tk" x="159" y="624.8"/>
<use href="#tk" x="293.1" y="681.7"/>
<use href="#tk" x="876" y="652.6"/>
<use href="#tk" x="542" y="796.7"/>
<use href="#tk" x="676" y="861.7"/>
<use href="#tk" x="956" y="451.6"/>
<polyline class="ar" stroke="#CC2200" points="930,455 971,459.7"/>
<path class="ar" stroke="#CC2200" d="M936,441 L971,459.7 M933.3,468.7 L971,459.7"/><circle cx="971" cy="459.7" r="2.1" fill="#CC2200"/>
<polyline class="ar" stroke="#CC2200" points="356.3,553.8 342,559.9"/>
<polygon points="317.1,589.5 318.3,597 324.3,592.5 321.5,599.5 329.1,598.6 323.1,603.3 330.1,606.3 322.6,607.5 327.1,613.5 320.1,610.7 321,618.3 316.3,612.3 313.3,619.3 312.1,611.8 306.1,616.3 308.9,609.3 301.3,610.2 307.3,605.5 300.3,602.5 307.8,601.3 303.3,595.3 310.3,598.1 309.4,590.5 314.1,596.5" fill="#FF7F00" stroke="#000" stroke-width="0.6"/>
<polygon points="319.6,593.8 319.7,598.4 324.3,597.4 322.1,601.5 326.6,602.9 322.6,605.4 325.8,608.8 321.2,608.9 322.2,613.5 318.1,611.3 316.7,615.8 314.2,611.8 310.8,615 310.7,610.4 306.1,611.4 308.3,607.3 303.8,605.9 307.8,603.4 304.6,600 309.2,599.9 308.2,595.3 312.3,597.5 313.7,593 316.2,597" fill="#FF0000"/>
<circle cx="315.2" cy="604.4" r="8" fill="#FF0000"/>
<polygon points="250.5,588.8 251.7,593.2 256.1,592.3 253.5,595.9 256.9,598.8 252.4,599.1 252.3,603.5 249.3,600.2 245.7,602.9 246.5,598.5 242.2,597.3 246.1,595.2 244.3,591.1 248.4,592.8" fill="#FF6A00" stroke="#000" stroke-width="0.9"/>
<polygon points="251.5,594.7 251.4,596.7 253.2,597.4 251.4,598.3 251.7,600.2 250,599.1 248.5,600.3 248.6,598.3 246.8,597.6 248.6,596.7 248.3,594.8 250,595.9" fill="#FFB400"/>
<g class="h" filter="url(#nf)">
<text x="406.5" y="37" font-size="12.5" textLength="68.0" lengthAdjust="spacing">Polarmeer</text>
<text x="562" y="102" font-size="12.5" textLength="75.0" lengthAdjust="spacing">Cobaltmeer</text>
<text x="74" y="137" font-size="12.5" textLength="98.0" lengthAdjust="spacing">Nordwestmeer</text>
<text x="238" y="179" font-size="12.5" textLength="86.0" lengthAdjust="spacing">Fungali-Meer</text>
<text x="1029" y="116" font-size="12.5" textLength="86.0" lengthAdjust="spacing">Nordostmeer</text>
<text x="1152" y="82" font-size="12.5" textLength="40.0" lengthAdjust="spacing">Conno</text>
<text x="821" y="89" font-size="12.5" textLength="43.5" lengthAdjust="spacing">Elfland</text>
<text x="912" y="90" font-size="12.5" textLength="41.5" lengthAdjust="spacing">Helom</text>
<text x="1083.5" y="231" font-size="12.5" textLength="111.0" lengthAdjust="spacing">Ozean von Doom</text>
<text x="1130.5" y="384" font-size="12.5" textLength="95.0" lengthAdjust="spacing">Kamalastrasse</text>
<text x="1139" y="491" font-size="12.5" textLength="41.0" lengthAdjust="spacing">Teisee</text>
<text x="1105" y="616" font-size="12.5" textLength="48.5" lengthAdjust="spacing">Kupfer-</text>
<text x="1105" y="629" font-size="12.5" textLength="36.0" lengthAdjust="spacing">Küste</text>
<text x="1172" y="699" font-size="12.5" textLength="31.0" lengthAdjust="spacing">Altes</text>
<text x="1172" y="712" font-size="12.5" textLength="32.5" lengthAdjust="spacing">Meer</text>
<text x="1083.5" y="777" font-size="12.5" textLength="85.0" lengthAdjust="spacing">Golf von Pirh</text>
<text x="1080" y="1000" font-size="12.5" textLength="85.5" lengthAdjust="spacing">Suedostmeer</text>
<text x="836.5" y="943" font-size="12.5" textLength="111.5" lengthAdjust="spacing">Froidevaux-Meer</text>
<text x="516.5" y="961" font-size="12.5" textLength="71.0" lengthAdjust="spacing">Lithiumsee</text>
<text x="572" y="1013" font-size="12.5" textLength="57.0" lengthAdjust="spacing">Daxmeer</text>
<text x="165.5" y="942" font-size="12.5" textLength="98.0" lengthAdjust="spacing">Suedwestmeer</text>
<text x="51" y="1017" font-size="12.5" textLength="41.5" lengthAdjust="spacing">Corws</text>
<text x="288" y="994" font-size="12.5" textLength="40.0" lengthAdjust="spacing">Abaun</text>
<text x="370" y="995" font-size="12.5" textLength="55.5" lengthAdjust="spacing">Ornheim</text>
<text x="145" y="876" font-size="12.5" textLength="90.5" lengthAdjust="spacing">Golf von Ailea</text>
<text x="80" y="749" font-size="12.5" textLength="78.5" lengthAdjust="spacing">Doringkanal</text>
<text x="58" y="602" font-size="12.5" textLength="64.5" lengthAdjust="spacing">Borkmeer</text>
<text x="30.6" y="375" font-size="12.5" textLength="40.0" lengthAdjust="spacing">Kaltes</text>
<text x="30.6" y="389" font-size="12.5" textLength="32.5" lengthAdjust="spacing">Meer</text>
<text x="93.5" y="411" font-size="12.5" textLength="32.5" lengthAdjust="spacing">Meer</text>
<text x="93.5" y="424" font-size="12.5" textLength="52.0" lengthAdjust="spacing">von Uuz</text>
<text x="110" y="327" font-size="12.5" textLength="54.0" lengthAdjust="spacing">Golf von</text>
<text x="110" y="340" font-size="12.5" textLength="44.0" lengthAdjust="spacing">Gawan</text>
<text x="233.5" y="394" font-size="12.5" textLength="50.5" lengthAdjust="spacing">Gorkion</text>
<text x="233.5" y="407" font-size="12.5" textLength="32.0" lengthAdjust="spacing">delta</text>
<text x="275.5" y="528" font-size="12.5" textLength="41.6" lengthAdjust="spacing">Mittel-</text>
<text x="275.5" y="541" font-size="12.5" textLength="48.6" lengthAdjust="spacing">gorkion</text>
<text x="336.5" y="633" font-size="12.5" textLength="57.2" lengthAdjust="spacing">Rotbucht</text>
<text x="861" y="412" font-size="12.5" textLength="63.0" lengthAdjust="spacing">Smaragd-</text>
<text x="861" y="426" font-size="12.5" textLength="36.5" lengthAdjust="spacing">Bucht</text>
<text x="933" y="511" font-size="12.5" textLength="36.5" lengthAdjust="spacing">Bucht</text>
<text x="933" y="526" font-size="12.5" textLength="23.3" lengthAdjust="spacing">des</text>
<text x="933" y="541" font-size="12.5" textLength="44.0" lengthAdjust="spacing">Ostens</text>
<text x="965" y="639" font-size="12.5" textLength="59.5" lengthAdjust="spacing">Rodesion</text>
<text x="965" y="652" font-size="12.5" textLength="34.5" lengthAdjust="spacing">Delta</text>
<text x="507" y="182" font-size="12.5" textLength="64.5" lengthAdjust="spacing">Jadestadt</text>
<text x="378" y="212" font-size="12.5" textLength="62.5" lengthAdjust="spacing">Qualinost</text>
<text x="445" y="252" font-size="12.5" textLength="64.0" lengthAdjust="spacing">Jossangia</text>
<text x="647.5" y="183" font-size="12.5" textLength="123.5" lengthAdjust="spacing">Schloss Gruenburg</text>
<text x="658" y="227" font-size="12.5" textLength="71.5" lengthAdjust="spacing">Gruenheim</text>
<text x="871" y="238" font-size="12.5" textLength="19.0" lengthAdjust="spacing">Eld</text>
<text x="299" y="305" font-size="12.5" textLength="53.5" lengthAdjust="spacing">Candolti</text>
<text x="449" y="311" font-size="12.5" textLength="42.0" lengthAdjust="spacing">Elchen</text>
<text x="784" y="280" font-size="12.5" textLength="72.0" lengthAdjust="spacing">Caraveccia</text>
<text x="708" y="299" font-size="12.5" textLength="37.0" lengthAdjust="spacing">Yokai</text>
<text x="871" y="324" font-size="12.5" textLength="28.0" lengthAdjust="spacing">Utar</text>
<text x="967" y="327" font-size="12.5" textLength="29.0" lengthAdjust="spacing">Kath</text>
<text x="571" y="336" font-size="12.5" textLength="27.5" lengthAdjust="spacing">Nari</text>
<text x="572" y="374" font-size="12.5" textLength="23.0" lengthAdjust="spacing">Olk</text>
<text x="396" y="365" font-size="12.5" textLength="19.5" lengthAdjust="spacing">Tel</text>
<text x="440" y="415" font-size="12.5" textLength="106.0" lengthAdjust="spacing">Land der Wiesel</text>
<text x="701" y="414" font-size="12.5" textLength="29.0" lengthAdjust="spacing">Hugl</text>
<text x="768" y="394" font-size="12.5" textLength="40.0" lengthAdjust="spacing">Amphi</text>
<text x="777" y="430" font-size="12.5" textLength="70.5" lengthAdjust="spacing">Esmaladan</text>
<text x="323.5" y="419" font-size="12.5" textLength="46.7" lengthAdjust="spacing">Gurand</text>
<text x="180.6" y="401" font-size="12.5" textLength="43.0" lengthAdjust="spacing">Gawar</text>
<text x="159" y="483" font-size="12.5" textLength="46.0" lengthAdjust="spacing">Heronn</text>
<text x="175" y="554" font-size="12.5" textLength="42.5" lengthAdjust="spacing">Korbia</text>
<text x="1013.5" y="375" font-size="12.5" textLength="75.0" lengthAdjust="spacing">Riesenheim</text>
<text x="953.5" y="422" font-size="12.5" textLength="41.5" lengthAdjust="spacing">Bridon</text>
<text x="1024.6" y="538" font-size="12.5" textLength="32.0" lengthAdjust="spacing">Bynn</text>
<text x="1029" y="567" font-size="12.5" textLength="41.0" lengthAdjust="spacing">Gwaul</text>
<text x="1020" y="687" font-size="12.5" textLength="26.0" lengthAdjust="spacing">Pirh</text>
<text x="495.7" y="461" font-size="12.5" textLength="66.5" lengthAdjust="spacing">Norterend</text>
<text x="618" y="462" font-size="12.5" textLength="45.0" lengthAdjust="spacing">Wildall</text>
<text x="560" y="498" font-size="12.5" textLength="23.0" lengthAdjust="spacing">Skr</text>
<text x="643.5" y="499" font-size="12.5" textLength="52.0" lengthAdjust="spacing">Ostberg</text>
<text x="537" y="548" font-size="12.5" textLength="62.5" lengthAdjust="spacing">Westberg</text>
<text x="367" y="509" font-size="12.5" textLength="97.0" lengthAdjust="spacing">Saphirschlucht</text>
<text x="788.5" y="506" font-size="12.5" textLength="41.0" lengthAdjust="spacing">Mellar</text>
<text x="835" y="544" font-size="12.5" textLength="84.5" lengthAdjust="spacing">Obstschlucht</text>
<text x="493.5" y="584" font-size="12.5" textLength="28.0" lengthAdjust="spacing">Hills</text>
<text x="639" y="579" font-size="12.5" textLength="24.0" lengthAdjust="spacing">Eun</text>
<text x="710" y="579" font-size="12.5" textLength="32.0" lengthAdjust="spacing">Sund</text>
<text x="365" y="579" font-size="12.5" textLength="37.0" lengthAdjust="spacing">Nabai</text>
<text x="435" y="595" font-size="12.5" textLength="34.0" lengthAdjust="spacing">Nogk</text>
<text x="496" y="630" font-size="12.5" textLength="30.0" lengthAdjust="spacing">Urur</text>
<text x="427" y="652" font-size="12.5" textLength="46.0" lengthAdjust="spacing">Barana</text>
<text x="777" y="634" font-size="12.5" textLength="62.0" lengthAdjust="spacing">Feuerfeld</text>
<text x="524.5" y="676" font-size="12.5" textLength="89.0" lengthAdjust="spacing">Chapablublek</text>
<text x="701" y="682" font-size="12.5" textLength="57.5" lengthAdjust="spacing">Neu Rom</text>
<text x="242" y="634" font-size="12.5" textLength="45.5" lengthAdjust="spacing">Arkoon</text>
<text x="181.5" y="664" font-size="12.5" textLength="71.0" lengthAdjust="spacing">Verlorenes</text>
<text x="181.5" y="678" font-size="12.5" textLength="32.0" lengthAdjust="spacing">Land</text>
<text x="888" y="703" font-size="12.5" textLength="36.0" lengthAdjust="spacing">Orlon</text>
<text x="326.5" y="728" font-size="12.5" textLength="54.0" lengthAdjust="spacing">Charaua</text>
<text x="456.5" y="733" font-size="12.5" textLength="30.0" lengthAdjust="spacing">Qwil</text>
<text x="576" y="753" font-size="12.5" textLength="44.3" lengthAdjust="spacing">Nilldall</text>
<text x="258" y="768" font-size="12.5" textLength="90.5" lengthAdjust="spacing">Kentommenai</text>
<text x="660" y="767" font-size="12.5" textLength="71.5" lengthAdjust="spacing">Kaaldewaa</text>
<text x="418.7" y="804" font-size="12.5" textLength="54.0" lengthAdjust="spacing">Sottovia</text>
<text x="884" y="799" font-size="12.5" textLength="53.5" lengthAdjust="spacing">Losteria</text>
<text x="506.5" y="827" font-size="12.5" textLength="53.0" lengthAdjust="spacing">Rotheim</text>
<text x="679" y="829" font-size="12.5" textLength="92.5" lengthAdjust="spacing">Mouchimoglou</text>
<text x="341.7" y="854" font-size="12.5" textLength="31.5" lengthAdjust="spacing">Ailea</text>
<text x="446" y="873" font-size="12.5" textLength="86.5" lengthAdjust="spacing">Zinnoberburg</text>
<text x="802" y="863" font-size="12.5" textLength="54.0" lengthAdjust="spacing">Samyria</text>
<text x="690.5" y="892" font-size="12.5" textLength="79.0" lengthAdjust="spacing">Karminstadt</text>
<text x="147.5" y="422.4" font-size="10.5" textLength="23.0" lengthAdjust="spacing">(wc)</text>
<text x="209.8" y="482.7" font-size="10.5" textLength="20.0" lengthAdjust="spacing">(ec)</text>
<text x="224.6" y="533.9" font-size="10.5" textLength="20.0" lengthAdjust="spacing">(ec)</text>
<text x="139.2" y="576.9" font-size="10.5" textLength="23.0" lengthAdjust="spacing">(wc)</text>
<text x="1061" y="467.6" font-size="10.5" textLength="20.0" lengthAdjust="spacing">(ec)</text>
<text x="987.7" y="540.5" font-size="10.5" textLength="23.0" lengthAdjust="spacing">(wc)</text>
<text x="1000.6" y="589.2" font-size="10.5" textLength="23.0" lengthAdjust="spacing">(wc)</text>
<text x="1051" y="624.6" font-size="10.5" textLength="20.0" lengthAdjust="spacing">(ec)</text>
</g>
<g class="t" filter="url(#nf)">
<text x="406.5" y="37" font-size="12.5" textLength="68.0" lengthAdjust="spacing">Polarmeer</text>
<text x="562" y="102" font-size="12.5" textLength="75.0" lengthAdjust="spacing">Cobaltmeer</text>
<text x="74" y="137" font-size="12.5" textLength="98.0" lengthAdjust="spacing">Nordwestmeer</text>
<text x="238" y="179" font-size="12.5" textLength="86.0" lengthAdjust="spacing">Fungali-Meer</text>
<text x="1029" y="116" font-size="12.5" textLength="86.0" lengthAdjust="spacing">Nordostmeer</text>
<text x="1152" y="82" font-size="12.5" textLength="40.0" lengthAdjust="spacing">Conno</text>
<text x="821" y="89" font-size="12.5" textLength="43.5" lengthAdjust="spacing">Elfland</text>
<text x="912" y="90" font-size="12.5" textLength="41.5" lengthAdjust="spacing">Helom</text>
<text x="1083.5" y="231" font-size="12.5" textLength="111.0" lengthAdjust="spacing">Ozean von Doom</text>
<text x="1130.5" y="384" font-size="12.5" textLength="95.0" lengthAdjust="spacing">Kamalastrasse</text>
<text x="1139" y="491" font-size="12.5" textLength="41.0" lengthAdjust="spacing">Teisee</text>
<text x="1105" y="616" font-size="12.5" textLength="48.5" lengthAdjust="spacing">Kupfer-</text>
<text x="1105" y="629" font-size="12.5" textLength="36.0" lengthAdjust="spacing">Küste</text>
<text x="1172" y="699" font-size="12.5" textLength="31.0" lengthAdjust="spacing">Altes</text>
<text x="1172" y="712" font-size="12.5" textLength="32.5" lengthAdjust="spacing">Meer</text>
<text x="1083.5" y="777" font-size="12.5" textLength="85.0" lengthAdjust="spacing">Golf von Pirh</text>
<text x="1080" y="1000" font-size="12.5" textLength="85.5" lengthAdjust="spacing">Suedostmeer</text>
<text x="836.5" y="943" font-size="12.5" textLength="111.5" lengthAdjust="spacing">Froidevaux-Meer</text>
<text x="516.5" y="961" font-size="12.5" textLength="71.0" lengthAdjust="spacing">Lithiumsee</text>
<text x="572" y="1013" font-size="12.5" textLength="57.0" lengthAdjust="spacing">Daxmeer</text>
<text x="165.5" y="942" font-size="12.5" textLength="98.0" lengthAdjust="spacing">Suedwestmeer</text>
<text x="51" y="1017" font-size="12.5" textLength="41.5" lengthAdjust="spacing">Corws</text>
<text x="288" y="994" font-size="12.5" textLength="40.0" lengthAdjust="spacing">Abaun</text>
<text x="370" y="995" font-size="12.5" textLength="55.5" lengthAdjust="spacing">Ornheim</text>
<text x="145" y="876" font-size="12.5" textLength="90.5" lengthAdjust="spacing">Golf von Ailea</text>
<text x="80" y="749" font-size="12.5" textLength="78.5" lengthAdjust="spacing">Doringkanal</text>
<text x="58" y="602" font-size="12.5" textLength="64.5" lengthAdjust="spacing">Borkmeer</text>
<text x="30.6" y="375" font-size="12.5" textLength="40.0" lengthAdjust="spacing">Kaltes</text>
<text x="30.6" y="389" font-size="12.5" textLength="32.5" lengthAdjust="spacing">Meer</text>
<text x="93.5" y="411" font-size="12.5" textLength="32.5" lengthAdjust="spacing">Meer</text>
<text x="93.5" y="424" font-size="12.5" textLength="52.0" lengthAdjust="spacing">von Uuz</text>
<text x="110" y="327" font-size="12.5" textLength="54.0" lengthAdjust="spacing">Golf von</text>
<text x="110" y="340" font-size="12.5" textLength="44.0" lengthAdjust="spacing">Gawan</text>
<text x="233.5" y="394" font-size="12.5" textLength="50.5" lengthAdjust="spacing">Gorkion</text>
<text x="233.5" y="407" font-size="12.5" textLength="32.0" lengthAdjust="spacing">delta</text>
<text x="275.5" y="528" font-size="12.5" textLength="41.6" lengthAdjust="spacing">Mittel-</text>
<text x="275.5" y="541" font-size="12.5" textLength="48.6" lengthAdjust="spacing">gorkion</text>
<text x="336.5" y="633" font-size="12.5" textLength="57.2" lengthAdjust="spacing">Rotbucht</text>
<text x="861" y="412" font-size="12.5" textLength="63.0" lengthAdjust="spacing">Smaragd-</text>
<text x="861" y="426" font-size="12.5" textLength="36.5" lengthAdjust="spacing">Bucht</text>
<text x="933" y="511" font-size="12.5" textLength="36.5" lengthAdjust="spacing">Bucht</text>
<text x="933" y="526" font-size="12.5" textLength="23.3" lengthAdjust="spacing">des</text>
<text x="933" y="541" font-size="12.5" textLength="44.0" lengthAdjust="spacing">Ostens</text>
<text x="965" y="639" font-size="12.5" textLength="59.5" lengthAdjust="spacing">Rodesion</text>
<text x="965" y="652" font-size="12.5" textLength="34.5" lengthAdjust="spacing">Delta</text>
<text x="507" y="182" font-size="12.5" textLength="64.5" lengthAdjust="spacing">Jadestadt</text>
<text x="378" y="212" font-size="12.5" textLength="62.5" lengthAdjust="spacing">Qualinost</text>
<text x="445" y="252" font-size="12.5" textLength="64.0" lengthAdjust="spacing">Jossangia</text>
<text x="647.5" y="183" font-size="12.5" textLength="123.5" lengthAdjust="spacing">Schloss Gruenburg</text>
<text x="658" y="227" font-size="12.5" textLength="71.5" lengthAdjust="spacing">Gruenheim</text>
<text x="871" y="238" font-size="12.5" textLength="19.0" lengthAdjust="spacing">Eld</text>
<text x="299" y="305" font-size="12.5" textLength="53.5" lengthAdjust="spacing">Candolti</text>
<text x="449" y="311" font-size="12.5" textLength="42.0" lengthAdjust="spacing">Elchen</text>
<text x="784" y="280" font-size="12.5" textLength="72.0" lengthAdjust="spacing">Caraveccia</text>
<text x="708" y="299" font-size="12.5" textLength="37.0" lengthAdjust="spacing">Yokai</text>
<text x="871" y="324" font-size="12.5" textLength="28.0" lengthAdjust="spacing">Utar</text>
<text x="967" y="327" font-size="12.5" textLength="29.0" lengthAdjust="spacing">Kath</text>
<text x="571" y="336" font-size="12.5" textLength="27.5" lengthAdjust="spacing">Nari</text>
<text x="572" y="374" font-size="12.5" textLength="23.0" lengthAdjust="spacing">Olk</text>
<text x="396" y="365" font-size="12.5" textLength="19.5" lengthAdjust="spacing">Tel</text>
<text x="440" y="415" font-size="12.5" textLength="106.0" lengthAdjust="spacing">Land der Wiesel</text>
<text x="701" y="414" font-size="12.5" textLength="29.0" lengthAdjust="spacing">Hugl</text>
<text x="768" y="394" font-size="12.5" textLength="40.0" lengthAdjust="spacing">Amphi</text>
<text x="777" y="430" font-size="12.5" textLength="70.5" lengthAdjust="spacing">Esmaladan</text>
<text x="323.5" y="419" font-size="12.5" textLength="46.7" lengthAdjust="spacing">Gurand</text>
<text x="180.6" y="401" font-size="12.5" textLength="43.0" lengthAdjust="spacing">Gawar</text>
<text x="159" y="483" font-size="12.5" textLength="46.0" lengthAdjust="spacing">Heronn</text>
<text x="175" y="554" font-size="12.5" textLength="42.5" lengthAdjust="spacing">Korbia</text>
<text x="1013.5" y="375" font-size="12.5" textLength="75.0" lengthAdjust="spacing">Riesenheim</text>
<text x="953.5" y="422" font-size="12.5" textLength="41.5" lengthAdjust="spacing">Bridon</text>
<text x="1024.6" y="538" font-size="12.5" textLength="32.0" lengthAdjust="spacing">Bynn</text>
<text x="1029" y="567" font-size="12.5" textLength="41.0" lengthAdjust="spacing">Gwaul</text>
<text x="1020" y="687" font-size="12.5" textLength="26.0" lengthAdjust="spacing">Pirh</text>
<text x="495.7" y="461" font-size="12.5" textLength="66.5" lengthAdjust="spacing">Norterend</text>
<text x="618" y="462" font-size="12.5" textLength="45.0" lengthAdjust="spacing">Wildall</text>
<text x="560" y="498" font-size="12.5" textLength="23.0" lengthAdjust="spacing">Skr</text>
<text x="643.5" y="499" font-size="12.5" textLength="52.0" lengthAdjust="spacing">Ostberg</text>
<text x="537" y="548" font-size="12.5" textLength="62.5" lengthAdjust="spacing">Westberg</text>
<text x="367" y="509" font-size="12.5" textLength="97.0" lengthAdjust="spacing">Saphirschlucht</text>
<text x="788.5" y="506" font-size="12.5" textLength="41.0" lengthAdjust="spacing">Mellar</text>
<text x="835" y="544" font-size="12.5" textLength="84.5" lengthAdjust="spacing">Obstschlucht</text>
<text x="493.5" y="584" font-size="12.5" textLength="28.0" lengthAdjust="spacing">Hills</text>
<text x="639" y="579" font-size="12.5" textLength="24.0" lengthAdjust="spacing">Eun</text>
<text x="710" y="579" font-size="12.5" textLength="32.0" lengthAdjust="spacing">Sund</text>
<text x="365" y="579" font-size="12.5" textLength="37.0" lengthAdjust="spacing">Nabai</text>
<text x="435" y="595" font-size="12.5" textLength="34.0" lengthAdjust="spacing">Nogk</text>
<text x="496" y="630" font-size="12.5" textLength="30.0" lengthAdjust="spacing">Urur</text>
<text x="427" y="652" font-size="12.5" textLength="46.0" lengthAdjust="spacing">Barana</text>
<text x="777" y="634" font-size="12.5" textLength="62.0" lengthAdjust="spacing">Feuerfeld</text>
<text x="524.5" y="676" font-size="12.5" textLength="89.0" lengthAdjust="spacing">Chapablublek</text>
<text x="701" y="682" font-size="12.5" textLength="57.5" lengthAdjust="spacing">Neu Rom</text>
<text x="242" y="634" font-size="12.5" textLength="45.5" lengthAdjust="spacing">Arkoon</text>
<text x="181.5" y="664" font-size="12.5" textLength="71.0" lengthAdjust="spacing">Verlorenes</text>
<text x="181.5" y="678" font-size="12.5" textLength="32.0" lengthAdjust="spacing">Land</text>
<text x="888" y="703" font-size="12.5" textLength="36.0" lengthAdjust="spacing">Orlon</text>
<text x="326.5" y="728" font-size="12.5" textLength="54.0" lengthAdjust="spacing">Charaua</text>
<text x="456.5" y="733" font-size="12.5" textLength="30.0" lengthAdjust="spacing">Qwil</text>
<text x="576" y="753" font-size="12.5" textLength="44.3" lengthAdjust="spacing">Nilldall</text>
<text x="258" y="768" font-size="12.5" textLength="90.5" lengthAdjust="spacing">Kentommenai</text>
<text x="660" y="767" font-size="12.5" textLength="71.5" lengthAdjust="spacing">Kaaldewaa</text>
<text x="418.7" y="804" font-size="12.5" textLength="54.0" lengthAdjust="spacing">Sottovia</text>
<text x="884" y="799" font-size="12.5" textLength="53.5" lengthAdjust="spacing">Losteria</text>
<text x="506.5" y="827" font-size="12.5" textLength="53.0" lengthAdjust="spacing">Rotheim</text>
<text x="679" y="829" font-size="12.5" textLength="92.5" lengthAdjust="spacing">Mouchimoglou</text>
<text x="341.7" y="854" font-size="12.5" textLength="31.5" lengthAdjust="spacing">Ailea</text>
<text x="446" y="873" font-size="12.5" textLength="86.5" lengthAdjust="spacing">Zinnoberburg</text>
<text x="802" y="863" font-size="12.5" textLength="54.0" lengthAdjust="spacing">Samyria</text>
<text x="690.5" y="892" font-size="12.5" textLength="79.0" lengthAdjust="spacing">Karminstadt</text>
<text x="147.5" y="422.4" font-size="10.5" textLength="23.0" lengthAdjust="spacing">(wc)</text>
<text x="209.8" y="482.7" font-size="10.5" textLength="20.0" lengthAdjust="spacing">(ec)</text>
<text x="224.6" y="533.9" font-size="10.5" textLength="20.0" lengthAdjust="spacing">(ec)</text>
<text x="139.2" y="576.9" font-size="10.5" textLength="23.0" lengthAdjust="spacing">(wc)</text>
<text x="1061" y="467.6" font-size="10.5" textLength="20.0" lengthAdjust="spacing">(ec)</text>
<text x="987.7" y="540.5" font-size="10.5" textLength="23.0" lengthAdjust="spacing">(wc)</text>
<text x="1000.6" y="589.2" font-size="10.5" textLength="23.0" lengthAdjust="spacing">(wc)</text>
<text x="1051" y="624.6" font-size="10.5" textLength="20.0" lengthAdjust="spacing">(ec)</text>
</g>
</svg>
</body></html>
